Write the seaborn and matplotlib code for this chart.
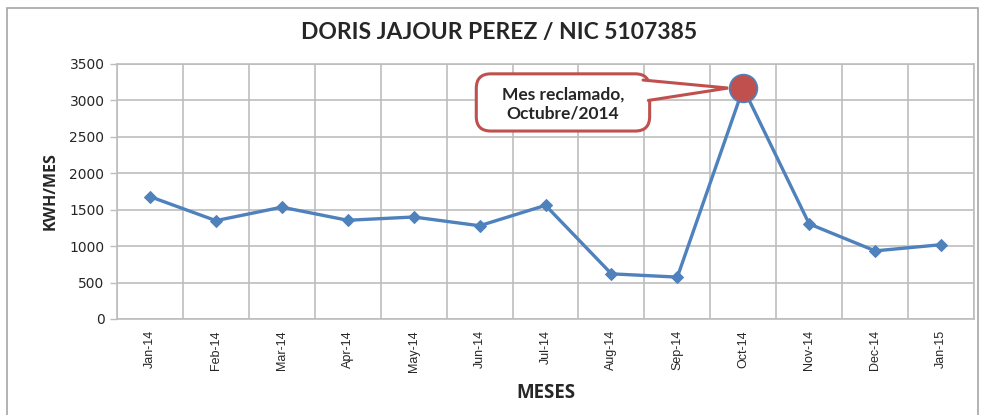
import matplotlib
matplotlib.use("Agg")
import matplotlib.pyplot as plt
import numpy as np
import pandas as pd
import seaborn as sns
from matplotlib.patches import Rectangle, FancyBboxPatch, Polygon

# data
meses = ["Jan-14", "Feb-14", "Mar-14", "Apr-14", "May-14", "Jun-14", "Jul-14",
         "Aug-14", "Sep-14", "Oct-14", "Nov-14", "Dec-14", "Jan-15"]
kwh = [1680, 1350, 1535, 1355, 1400, 1280, 1560, 620, 575, 3170, 1305, 935, 1020]
mes_reclamado = "Oct-14"
yticks = [0, 500, 1000, 1500, 2000, 2500, 3000, 3500]

df = pd.DataFrame({"idx": np.arange(len(meses)), "mes": meses, "kwh": kwh})

sns.set_style("white")
blue = "#4F81BD"
red = "#C0504D"
grid = "#BDBDBD"

fig = plt.figure(figsize=(9.84, 4.15), dpi=100)
ax = fig.add_axes([117/984, 1-319/415, (974-117)/984, (319-64)/415])

sns.lineplot(data=df, x="idx", y="kwh", ax=ax, color=blue, lw=2.4,
             marker="D", markersize=6, markeredgecolor=blue, sort=False)

# highlighted month
sel = df[df["mes"] == mes_reclamado]
sx, sy = sel["idx"].iloc[0], sel["kwh"].iloc[0]
ax.plot(sx, sy, "o", ms=20, mfc=red, mec=blue, mew=1.2, zorder=10)

ax.set_xlim(-0.5, len(meses) - 0.5)
ax.set_ylim(0, 3500)
ax.set_yticks(yticks)
ax.set_yticklabels([str(v) for v in yticks], fontsize=10, family="DejaVu Sans")
ax.set_xticks(df["idx"])
ax.set_xticklabels(meses, rotation=90, fontsize=9, family="Liberation Sans")
ax.tick_params(axis="x", length=0, pad=8)
ax.tick_params(axis="y", length=5, width=1, color=grid, pad=4, left=True)

# grid: horizontal at ticks, vertical between categories
for v in yticks:
    ax.axhline(v, color=grid, lw=1.2, zorder=0)
for b in np.arange(-0.5, len(meses), 1.0):
    ax.axvline(b, color=grid, lw=1.2, zorder=0)
for s in ax.spines.values():
    s.set_color(grid)
    s.set_linewidth(1.2)

ax.set_xlabel("MESES", fontsize=13.5, fontweight="bold", family="Open Sans", labelpad=8)
ax.set_ylabel("KWH/MES", fontsize=11.5, fontweight="bold", family="Open Sans", labelpad=8)

# callout box with pointer to the claimed month
x0, x1, y0, y1 = sx - 4.05, sx - 1.42, 2580, 3365
asp = (ax.bbox.width / 13) / (ax.bbox.height / 3500)  # px per x-unit vs px per y-unit
box = FancyBboxPatch((x0, y0), x1 - x0, y1 - y0,
                     boxstyle="round,pad=0,rounding_size=0.22", mutation_aspect=asp,
                     fc="white", ec=red, lw=2.2, zorder=7)
ax.add_patch(box)
tip = (sx - 0.23, sy)
b_top = (x1 - 0.1, 3280)
b_bot = (x1 - 0.02, 3000)
ax.add_patch(Polygon([(x1 - 0.3, 3270), b_top, tip, b_bot, (x1 - 0.3, 3010)],
                     closed=True, fc="white", ec="none", zorder=8))
ax.plot([b_top[0], tip[0], b_bot[0]], [b_top[1], tip[1], b_bot[1]], color=red, lw=2.2,
        zorder=8, solid_joinstyle="miter")
ax.text((x0 + x1) / 2, (y0 + y1) / 2 - 20, "Mes reclamado,\nOctubre/2014", ha="center", va="center",
        fontsize=12.5, fontweight="bold", family="Lato", linespacing=1.25, zorder=9)

fig.text(499/984, 1-33/415, "DORIS JAJOUR PEREZ / NIC 5107385", ha="center", va="center",
         fontsize=16.5, fontweight="bold", family="Lato")

fig.patches.append(Rectangle((7/984, -0.1), (978-7)/984, 1.1 - 8/415, transform=fig.transFigure,
                             fill=False, ec="#A6A6A6", lw=1.2))

fig.savefig("out.png", dpi=100)
